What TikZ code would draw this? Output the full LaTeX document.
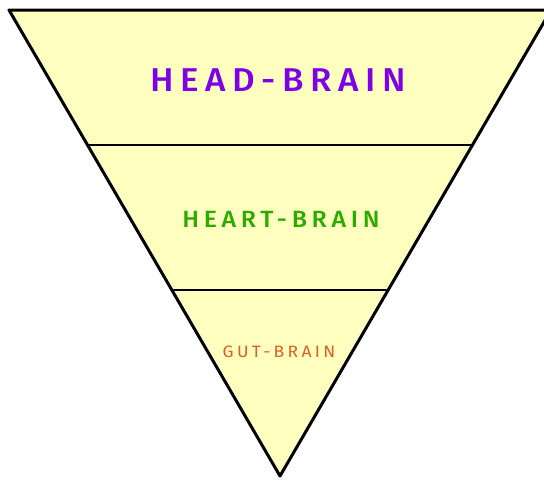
\documentclass[tikz,border=0pt]{standalone}
\usepackage{fontspec}
\setsansfont{Fira Sans}
\newfontfamily\brainfont[LetterSpace=20,FakeStretch=1.06]{Fira Sans}
\newfontfamily\brainmedium[LetterSpace=20,FakeStretch=1.06]{Fira Sans Medium}
\definecolor{paleyellow}{RGB}{255,255,192}
\definecolor{headpurple}{RGB}{128,0,230}
\definecolor{heartgreen}{RGB}{45,170,0}
\definecolor{gutorange}{RGB}{225,95,35}
\tikzset{
  level/.style={inner sep=0pt, font=\brainfont},
}
\begin{document}
\begin{tikzpicture}[x=1pt,y=-1pt]
\useasboundingbox (0,0) rectangle (544,480);
\clip (0,0) rectangle (544,480);
\coordinate (tl) at (9,10);
\coordinate (tr) at (551,10);
\coordinate (apex) at (280,476);

\fill[paleyellow] (tl) -- (tr) -- (apex) -- cycle;
\draw[line width=1.3pt] (88,145) -- (472,145);
\draw[line width=1.3pt] (172,290) -- (387,290);
\draw[line width=3pt, line join=round] (tl) -- (tr) -- (apex) -- cycle;

\node[level, text=headpurple, font=\brainmedium\fontsize{33}{33}\selectfont] (head) at (278,80) {HEAD-BRAIN};
\node[level, text=heartgreen, font=\brainmedium\fontsize{23.5}{24}\selectfont] (heart) at (281,219) {HEART-BRAIN};
\node[level, text=gutorange, font=\brainfont\fontsize{16.5}{17}\selectfont] (gut) at (279,352) {GUT-BRAIN};
\end{tikzpicture}
\end{document}
